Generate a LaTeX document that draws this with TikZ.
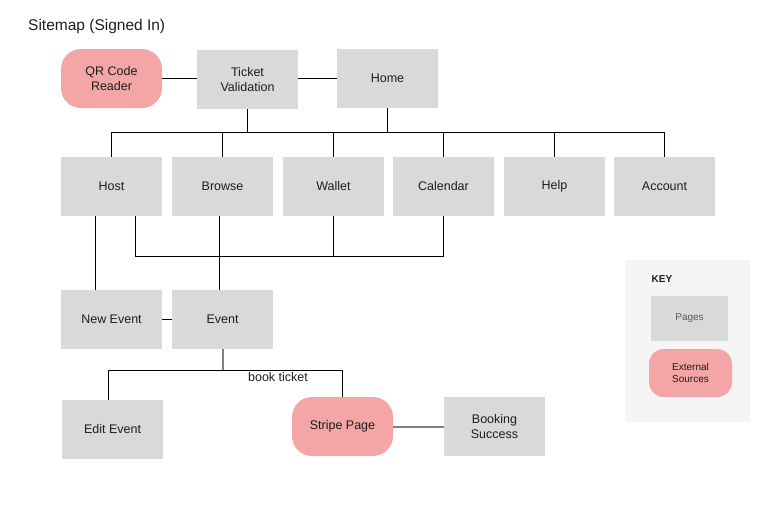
\documentclass[tikz,border=0pt]{standalone}
\usepackage{fontspec}
\setmainfont{Liberation Sans}
\definecolor{pagegray}{HTML}{D9D9D9}
\definecolor{extpink}{HTML}{F4A5A5}
\definecolor{keybg}{HTML}{F5F5F5}
\definecolor{linkgray}{HTML}{808080}
\definecolor{txt}{HTML}{1E1E1E}
\tikzset{
    pagebox/.style={fill=pagegray, minimum width=101pt, minimum height=59pt, inner sep=0pt,
      align=center, text=txt, font=\fontsize{12.5}{15}\selectfont},
    extbox/.style={pagebox, fill=extpink, rounded corners=20pt},
    link/.style={draw=black, line width=1pt},
    heavylink/.style={draw=linkgray, line width=2pt},
  }
\begin{document}
\begin{tikzpicture}[x=1pt,y=-1pt]
				  \useasboundingbox (0,0) rectangle (776,520);
				  %titre
				  \node[anchor=base west, text=txt, font=\fontsize{15.5}{18}\selectfont, inner sep=0pt] (title) at (28,30.5) {Sitemap (Signed In)};

				  %ligne du haut
				  \node[extbox] (qr) at (111.5,78.5) {QR Code\\Reader};
				  \node[pagebox] (tv) at (247.5,79.5) {Ticket\\Validation};
				  \node[pagebox] (home) at (387.5,78.5) {Home};
				  \draw[link] (qr.east) -- (qr.east -| tv.west);
				  \draw[link] ([yshift=1.5pt]tv.east) -- ([yshift=1.5pt]tv.east -| home.west);

				  %pages principales
				  \node[pagebox] (host) at (111.5,186.5) {Host};
				  \node[pagebox] (browse) at (222.5,186.5) {Browse};
				  \node[pagebox] (wallet) at (333.5,186.5) {Wallet};
				  \node[pagebox] (calendar) at (443.5,186.5) {Calendar};
				  \node[pagebox] (help) at (554.5,186.5) {Help};
				  \node[pagebox] (account) at (664.5,186.5) {Account};

				  %bus du haut
				  \coordinate (busT) at (0,132);
				  \draw[link] (tv.south) -- (tv.south |- busT);
				  \draw[link] (home.south) -- (home.south |- busT);
				  \draw[link] (host.north |- busT) -- (account.north |- busT);
				  \foreach \n in {host,browse,wallet,calendar,help,account}
				    \draw[link] (\n.north) -- (\n.north |- busT);

				  %evenements
				  \node[pagebox] (newevent) at (111.5,319.5) {New Event};
				  \node[pagebox] (event) at (222.5,319.5) {Event};
				  \coordinate (busM) at (0,256);
				  \draw[link] ([xshift=35pt]host.south west) -- ([xshift=35pt]host.south west |- newevent.north);
				  \draw[link] ([xshift=-27pt]host.south east) |- (calendar.south |- busM) -- (calendar.south);
				  \draw[link] (wallet.south) -- (wallet.south |- busM);
				  \draw[link] ([xshift=-3.5pt]browse.south) -- ([xshift=-3.5pt]event.north);
				  \draw[link] (newevent.east) -- (event.west);

				  %reservation
				  \node[pagebox] (editevent) at (112.5,429.5) {Edit Event};
				  \node[extbox] (stripe) at (342.5,426.5) {Stripe Page};
				  \node[pagebox] (booking) at (494.5,426.5) {Booking\\Success};
				  \coordinate (busB) at (0,370);
				  \draw[heavylink] (event.south) -- (event.south |- busB);
				  \draw[link] ([xshift=-4.5pt]editevent.north) |- (stripe.north |- busB) -- (stripe.north);
				  \node[text=txt, font=\fontsize{12.5}{15}\selectfont, inner sep=0pt] (booklbl) at (278,377) {book ticket};
				  \draw[heavylink] (stripe.east) -- (booking.west);

				  %KEY
				  \fill[keybg] (625,260) rectangle (750,422);
				  \node[anchor=base west, text=txt, font=\bfseries\fontsize{10}{12}\selectfont, inner sep=0pt] (keylbl) at (651.5,282.5) {KEY};
				  \node[pagebox, minimum width=77pt, minimum height=45pt, text=black!65, font=\fontsize{10}{12}\selectfont] (keypages) at (689.5,318.5) {Pages};
				  \node[extbox, minimum width=83pt, minimum height=48pt, rounded corners=15pt, font=\fontsize{10}{12}\selectfont] (keyext) at (690.5,373) {External\\Sources};
				  \end{tikzpicture}
\end{document}
